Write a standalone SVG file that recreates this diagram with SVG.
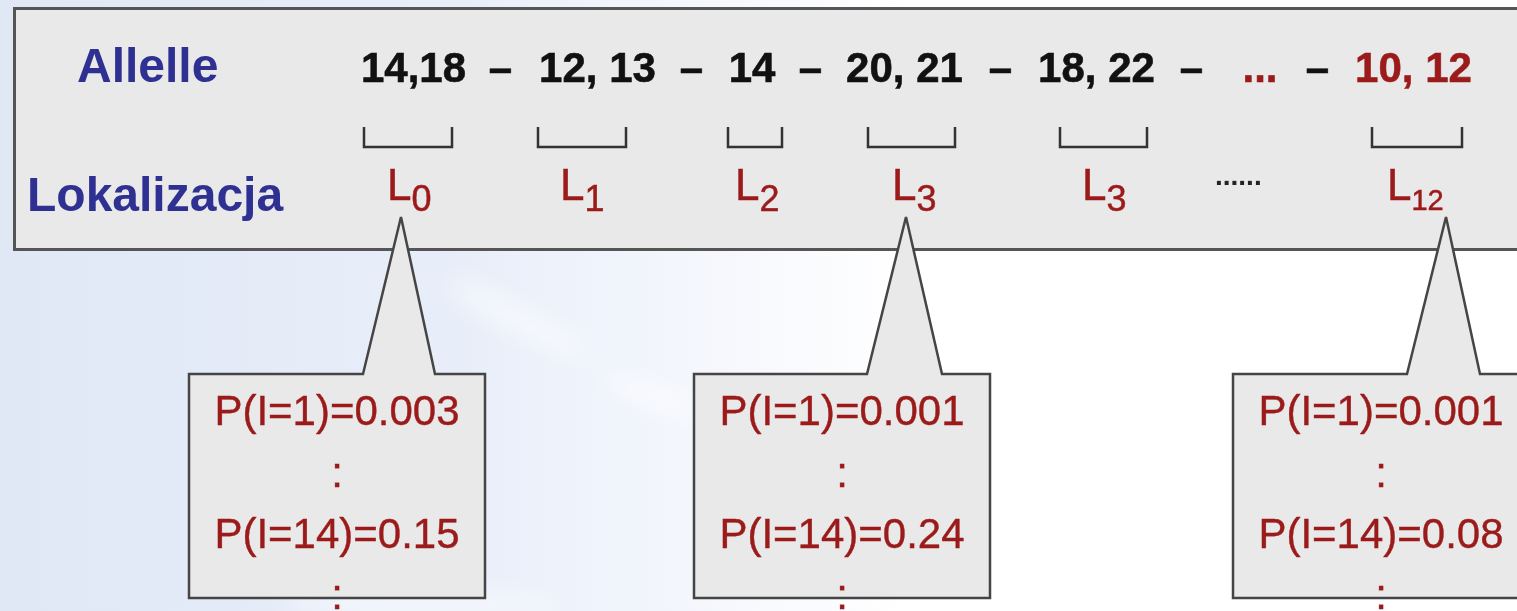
<svg xmlns="http://www.w3.org/2000/svg" width="1517" height="611" viewBox="0 0 1517 611">
  <defs>
    <linearGradient id="sky" x1="0" y1="0" x2="1" y2="0">
      <stop offset="0" stop-color="#e0e8f6"/>
      <stop offset="0.3" stop-color="#e8eef9"/>
      <stop offset="0.48" stop-color="#f6f8fd"/>
      <stop offset="0.6" stop-color="#ffffff"/>
      <stop offset="1" stop-color="#ffffff"/>
    </linearGradient>
    <filter id="soft" x="-50%" y="-50%" width="200%" height="200%">
      <feGaussianBlur stdDeviation="12"/>
    </filter>
    <style>
      .panel { fill: #e9e9e9; stroke: #555555; stroke-width: 3; }
      .callout { fill: #e9e9e9; stroke: #454545; stroke-width: 2.5; stroke-linejoin: miter; }
      .head { font-family: "Liberation Sans", Arial, sans-serif; font-weight: bold; font-size: 48px; fill: #2e3192; }
      .num { font-family: "Liberation Sans", Arial, sans-serif; font-weight: bold; font-size: 42px; fill: #111111; text-anchor: middle; stroke: #111111; stroke-width: 0.6; }
      .num.red { fill: #9b1a1a; stroke: #9b1a1a; }
      .loc { font-family: "Liberation Sans", Arial, sans-serif; font-size: 44px; fill: #9b1a1a; stroke: #9b1a1a; stroke-width: 0.5; }
      .sub { font-size: 36px; }
      .sub2 { font-size: 29px; }
      .prob { font-family: "Liberation Sans", Arial, sans-serif; font-size: 42px; fill: #9b1a1a; text-anchor: middle; stroke: #9b1a1a; stroke-width: 0.4; }
      .gap { font-family: "Liberation Sans", Arial, sans-serif; font-weight: bold; font-size: 28px; fill: #222222; }
      .bracket { fill: none; stroke: #333333; stroke-width: 2.5; }
    </style>
  </defs>

  <!-- background sky -->
  <rect x="0" y="0" width="1517" height="611" fill="url(#sky)"/>
  <g filter="url(#soft)" fill="#ffffff" opacity="0.55">
    <ellipse cx="520" cy="320" rx="80" ry="14" transform="rotate(28 520 320)"/>
    <ellipse cx="650" cy="395" rx="55" ry="12" transform="rotate(22 650 395)"/>
    <ellipse cx="420" cy="605" rx="140" ry="14"/>
  </g>

  <!-- header panel -->
  <g id="panel">
    <rect class="panel" x="14.5" y="8.5" width="1520" height="241"/>
    <text class="head" x="77" y="82">Allelle</text>
    <text class="head" x="27" y="211">Lokalizacja</text>
  </g>

  <!-- allele sequence -->
  <g id="alleles">
    <text class="num" x="413.5" y="82">14,18</text>
    <text class="num" x="500.5" y="82">–</text>
    <text class="num" x="597.5" y="82">12, 13</text>
    <text class="num" x="691.5" y="82">–</text>
    <text class="num" x="752" y="82">14</text>
    <text class="num" x="810.5" y="82">–</text>
    <text class="num" x="904.5" y="82">20, 21</text>
    <text class="num" x="1000.5" y="82">–</text>
    <text class="num" x="1096.5" y="82">18, 22</text>
    <text class="num" x="1191.5" y="82">–</text>
    <text class="num red" x="1260" y="82">...</text>
    <text class="num" x="1317.5" y="82">–</text>
    <text class="num red" x="1413.5" y="82">10, 12</text>
  </g>

  <!-- locus brackets -->
  <g id="connectors">
    <path class="bracket" d="M364,127 V147 H452 V127"/>
    <path class="bracket" d="M538,127 V147 H626 V127"/>
    <path class="bracket" d="M728,127 V147 H782 V127"/>
    <path class="bracket" d="M868,127 V147 H955 V127"/>
    <path class="bracket" d="M1060,127 V147 H1147 V127"/>
    <path class="bracket" d="M1372,127 V147 H1462 V127"/>
  </g>

  <!-- locus labels -->
  <g id="loci">
    <text class="loc" x="387" y="200">L<tspan class="sub" dy="11">0</tspan></text>
    <text class="loc" x="560" y="200">L<tspan class="sub" dy="11">1</tspan></text>
    <text class="loc" x="735" y="200">L<tspan class="sub" dy="11">2</tspan></text>
    <text class="loc" x="892" y="200">L<tspan class="sub" dy="11">3</tspan></text>
    <text class="loc" x="1082" y="200">L<tspan class="sub" dy="11">3</tspan></text>
    <text class="gap" x="1215" y="185">......</text>
    <text class="loc" x="1387" y="200">L<tspan class="sub2" dy="10">12</tspan></text>
  </g>

  <!-- probability callouts -->
  <g id="callout-L0">
    <path class="callout" d="M189,374 H363 L401,217 L435,374 H485 V598 H189 Z"/>
    <text class="prob" x="337" y="425">P(I=1)=0.003</text>
    <text class="prob" x="337" y="487">:</text>
    <text class="prob" x="337" y="548">P(I=14)=0.15</text>
    <text class="prob" x="337" y="609">:</text>
  </g>
  <g id="callout-L3">
    <path class="callout" d="M694,374 H867 L906,217 L942,374 H990 V598 H694 Z"/>
    <text class="prob" x="842" y="425">P(I=1)=0.001</text>
    <text class="prob" x="842" y="487">:</text>
    <text class="prob" x="842" y="548">P(I=14)=0.24</text>
    <text class="prob" x="842" y="609">:</text>
  </g>
  <g id="callout-L12">
    <path class="callout" d="M1233,374 H1407 L1446,217 L1480,374 H1530 V598 H1233 Z"/>
    <text class="prob" x="1381" y="425">P(I=1)=0.001</text>
    <text class="prob" x="1381" y="487">:</text>
    <text class="prob" x="1381" y="548">P(I=14)=0.08</text>
    <text class="prob" x="1381" y="609">:</text>
  </g>
</svg>
